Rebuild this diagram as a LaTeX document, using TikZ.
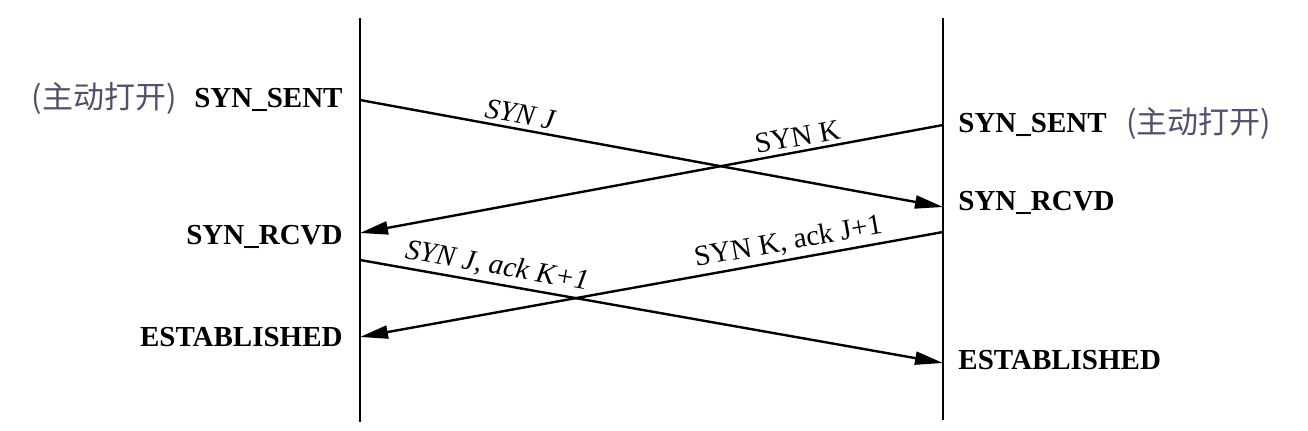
\documentclass[tikz,border=0pt]{standalone}
\usepackage{fontspec}
\setmainfont{Liberation Serif}
\newfontfamily\cjk{Noto Sans CJK SC}
\usetikzlibrary{arrows.meta}
\definecolor{cjkcol}{RGB}{80,80,112}
\begin{document}
\begin{tikzpicture}[x=0.5pt,y=-0.5pt,
  state/.style={font=\fontsize{14.5}{16}\selectfont\bfseries, inner sep=0pt},
  note/.style={font=\cjk\fontsize{15.5}{17}\selectfont, text=cjkcol, inner sep=0pt},
  msg/.style={line width=1.2pt, -{Triangle[length=14pt,width=6.5pt]}},
  lbl/.style={font=\fontsize{14.5}{16}\selectfont, sloped, above, inner sep=2pt},
  life/.style={line width=1.4pt}]
\useasboundingbox (0,0) rectangle (1308,430);
% lifelines
\coordinate (Ltop) at (360,18); \coordinate (Lbot) at (360,422);
\coordinate (Rtop) at (943,18); \coordinate (Rbot) at (943,420);
\draw[life] (Ltop) -- (Lbot);
\draw[life] (Rtop) -- (Rbot);
% events
\coordinate (L1) at (360,100);
\coordinate (R2) at (943,207);
\coordinate (R1) at (943,125);
\coordinate (L2) at (360,233);
\coordinate (L3) at (360,260);
\coordinate (R4) at (943,363);
\coordinate (R3) at (943,232);
\coordinate (L4) at (360,337);
% messages
\draw[msg] (L1) -- node[lbl, pos=0.27] {\itshape SYN J} (R2);
\draw[msg] (R1) -- node[lbl, pos=0.245] {SYN K} (L2);
\draw[msg] (L3) -- node[lbl, pos=0.23] {\itshape SYN J, ack K+1} (R4);
\draw[msg] (R3) -- node[lbl, pos=0.26] {SYN K, ack J+1} (L4);
% state labels
\node[state, anchor=base east] (ls1) at (343,107) {SYN\_SENT};
\node[note, anchor=base east] (ln1) at (177,108) {(主动打开)};
\node[state, anchor=base west] (rs1) at (958,132) {SYN\_SENT};
\node[note, anchor=base west] (rn1) at (1126,133) {(主动打开)};
\node[state, anchor=base west] (rs2) at (958,210) {SYN\_RCVD};
\node[state, anchor=base east] (ls2) at (343,244) {SYN\_RCVD};
\node[state, anchor=base east] (ls3) at (343,346) {ESTABLISHED};
\node[state, anchor=base west] (rs3) at (958,369) {ESTABLISHED};
\end{tikzpicture}
\end{document}
